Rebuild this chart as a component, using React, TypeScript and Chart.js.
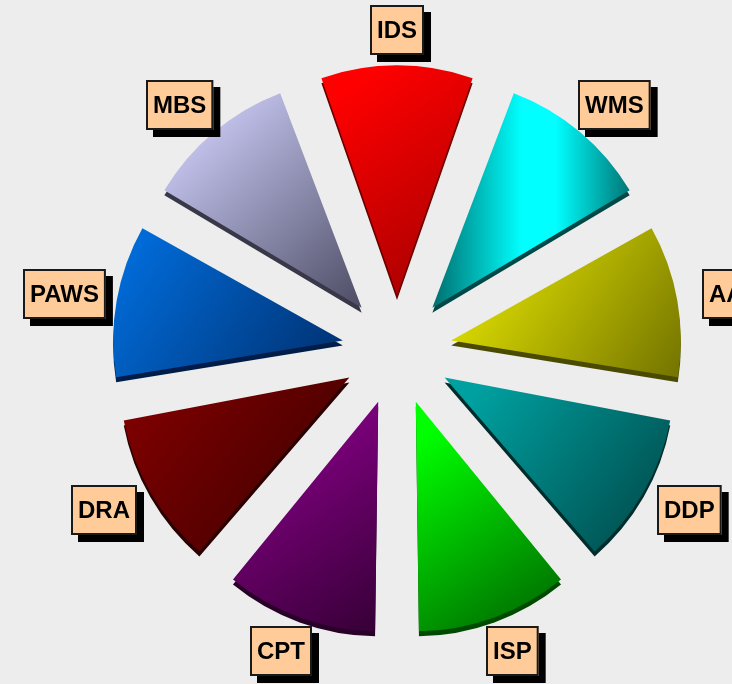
import React, { useEffect, useRef } from "react";
import { Chart, registerables } from "chart.js";

Chart.register(...registerables);

const categories = ["IDS", "WMS", "AAI", "DDP", "ISP", "CPT", "DRA", "PAWS", "MBS"];
const values = [1, 1, 1, 1, 1, 1, 1, 1, 1];
const lightColors = ["#FF0000", "#00FFFF", "#E4E400", "#00A0A0", "#00FF00", "#8C008C", "#7C0000", "#006AD6", "#CCCCF8"];
const darkColors = ["#A00000", "#007070", "#727200", "#004444", "#006000", "#360036", "#380000", "#002E6C", "#4C4C64"];
const sideColors = ["#6A0000", "#004848", "#4A4A00", "#002C2C", "#004A00", "#280028", "#2A0000", "#001C48", "#383848"];

const OFFSET = 220; // Chart.js translates by offset/4
const RADIUS = 210;
const LABEL_RX = 338;
const LABEL_RY = 320;

// Bounding box of a slice in the arc's own (translated) drawing frame
function sliceGeom(arc: any) {
  const mid = (arc.startAngle + arc.endAngle) / 2;
  const d = (arc.options.offset || 0) / 4;
  const circ = arc.endAngle - arc.startAngle;
  const R = arc.outerRadius + d * (1 - Math.sin(Math.min(Math.PI, circ)));
  const ax = arc.x;
  const ay = arc.y;
  let minX = ax, maxX = ax, minY = ay, maxY = ay;
  for (let k = 0; k <= 20; k++) {
    const a = arc.startAngle + (circ * k) / 20;
    const px = ax + Math.cos(a) * R;
    const py = ay + Math.sin(a) * R;
    minX = Math.min(minX, px); maxX = Math.max(maxX, px);
    minY = Math.min(minY, py); maxY = Math.max(maxY, py);
  }
  return { minX, maxX, minY, maxY, mid };
}

const piePlugin = {
  id: "pie3d",
  beforeDraw(chart: any) {
    const ctx = chart.ctx;
    ctx.save();
    ctx.fillStyle = "#EDEDED";
    ctx.fillRect(0, 0, chart.width, chart.height);
    ctx.restore();
  },
  beforeDatasetsDraw(chart: any) {
    const ctx = chart.ctx;
    const meta = chart.getDatasetMeta(0);
    meta.data.forEach((arc: any, i: number) => {
      const g = sliceGeom(arc);
      let grad;
      if (categories[i] === "WMS") {
        grad = ctx.createLinearGradient(g.minX, 0, g.maxX, 0);
        grad.addColorStop(0, "#006E6E");
        grad.addColorStop(0.45, "#00FFFF");
        grad.addColorStop(0.62, "#00FFFF");
        grad.addColorStop(1, "#007272");
      } else {
        grad = ctx.createLinearGradient(g.minX, g.minY, g.maxX, g.maxY);
        grad.addColorStop(0.12, lightColors[i]);
        grad.addColorStop(1, darkColors[i]);
      }
      const opts = arc.options;
      opts.backgroundColor = sideColors[i];
      ctx.save();
      ctx.translate(0, 5);
      arc.draw(ctx);
      ctx.restore();
      opts.backgroundColor = grad;
    });
  },
  afterDatasetsDraw(chart: any) {
    const ctx = chart.ctx;
    const meta = chart.getDatasetMeta(0);
    ctx.save();
    ctx.font = "bold 24px 'Liberation Sans', Arial, sans-serif";
    ctx.textAlign = "center";
    ctx.textBaseline = "middle";
    meta.data.forEach((arc: any, i: number) => {
      const mid = (arc.startAngle + arc.endAngle) / 2;
      const cx = arc.x + Math.cos(mid) * LABEL_RX;
      const cy = arc.y + Math.sin(mid) * LABEL_RY;
      const tw = ctx.measureText(categories[i]).width;
      const w = Math.max(tw + 14, 50);
      const h = 50;
      const x = Math.round(cx - w / 2);
      const y = Math.round(cy - h / 2);
      ctx.fillStyle = "#000000";
      ctx.fillRect(x + 7, y + 7, w, h);
      ctx.fillStyle = "#FFCC99";
      ctx.fillRect(x, y, w, h);
      ctx.strokeStyle = "#1A1A1A";
      ctx.lineWidth = 2;
      ctx.strokeRect(x + 1, y + 1, w - 2, h - 2);
      ctx.fillStyle = "#000000";
      ctx.fillText(categories[i], x + w / 2, y + h / 2 + 1);
    });
    ctx.restore();
  },
};

export default function App() {
  const ref = useRef<HTMLCanvasElement | null>(null);
  useEffect(() => {
    if (!ref.current) return;
    const chart = new Chart(ref.current, {
      type: "pie",
      data: {
        labels: categories,
        datasets: [
          {
            data: values,
            backgroundColor: lightColors,
            borderWidth: 0,
            offset: OFFSET,
          },
        ],
      },
      options: {
        responsive: false,
        animation: false,
        events: [],
        rotation: -20,
        radius: RADIUS,
        layout: { padding: { left: 62, top: 16, right: 0, bottom: 0 } },
        plugins: { legend: { display: false }, tooltip: { enabled: false } },
      } as any,
      plugins: [piePlugin],
    });
    return () => chart.destroy();
  }, []);
  return (
    <canvas
      ref={ref}
      width={732}
      height={684}
      style={{ position: "absolute", left: 0, top: 0, display: "block" }}
    />
  );
}
